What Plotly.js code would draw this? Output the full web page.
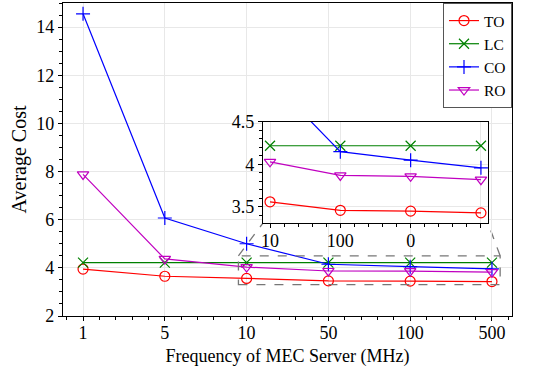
<!DOCTYPE html>
<html>
<head>
<meta charset="utf-8">
<script src="https://cdn.plot.ly/plotly-3.0.1.min.js"></script>
<style>html,body{margin:0;padding:0;background:#fff}#chart{width:545px;height:371px}</style>
</head>
<body>
<div id="chart"></div>
<script>
const categories = ["1", "5", "10", "50", "100", "500"];
const TO = [3.95, 3.65, 3.56, 3.46, 3.45, 3.43];
const LC = [4.22, 4.22, 4.22, 4.22, 4.22, 4.22];
const CO = [14.55, 6.07, 5.0, 4.15, 4.05, 3.96];
const RO = [7.88, 4.37, 4.03, 3.87, 3.86, 3.82];
const insetStart = 2;
const insetTickText = ["10", "100", "0", ""];

const xIdx = categories.map((_, i) => i);
const insetIdx = xIdx.slice(insetStart).map(i => i - insetStart);

const seriesDefs = [
  {name: "TO", y: TO, color: "#ff0000", symbol: "circle-open"},
  {name: "LC", y: LC, color: "#008000", symbol: "x-thin-open"},
  {name: "CO", y: CO, color: "#0000ff", symbol: "cross-thin-open"},
  {name: "RO", y: RO, color: "#c000c0", symbol: "triangle-down-open"}
];

const traces = [];
seriesDefs.forEach(s => {
  traces.push({
    x: xIdx, y: s.y, name: s.name, type: "scatter", mode: "lines+markers",
    line: {color: s.color, width: 1.2},
    marker: {symbol: s.symbol, size: 10, color: s.color, line: {color: s.color, width: 1.2}},
    xaxis: "x", yaxis: "y", cliponaxis: true
  });
});
seriesDefs.forEach(s => {
  traces.push({
    x: insetIdx, y: s.y.slice(insetStart), name: s.name, type: "scatter", mode: "lines+markers",
    line: {color: s.color, width: 1.2},
    marker: {symbol: s.symbol, size: 10, color: s.color, line: {color: s.color, width: 1.2}},
    xaxis: "x2", yaxis: "y2", showlegend: false, cliponaxis: true
  });
});

const FAM = "Liberation Serif";
const font = {family: FAM, color: "#000"};
const tickFont = {family: FAM, color: "#000", size: 18};

// zoom rectangle (data coords of main axes) and inset corners
const rect = {x0: 1.9, x1: 5.1, y0: 3.3, y1: 4.5};
const insetDom = {x: [0.4454, 0.9465], y: [0.297, 0.62]};
const xr = [-0.245, 5.245], yr = [2, 15];
function px2dx(p) { return xr[0] + (xr[1] - xr[0]) * p; }
function py2dy(p) { return yr[0] + (yr[1] - yr[0]) * p; }

const dashStyle = {color: "#777", width: 1.3, dash: "dash"};

const layout = {
  width: 545, height: 371,
  margin: {l: 63, r: 33, t: 3, b: 55},
  paper_bgcolor: "#fff", plot_bgcolor: "#fff",
  font: font,
  showlegend: true,
  legend: {
    x: 1, xanchor: "right", y: 1, yanchor: "top",
    bgcolor: "#fff", bordercolor: "#555", borderwidth: 1,
    font: {family: FAM, color: "#000", size: 15.5},
    tracegroupgap: 0, itemwidth: 30, entrywidth: 72
  },
  xaxis: {
    domain: [0, 1], range: xr,
    tickmode: "array", tickvals: xIdx, ticktext: categories,
    ticks: "outside", ticklen: 4, tickcolor: "#000", tickwidth: 1,
    ticklabelstandoff: -4,
    minor: {tickmode: "linear", tick0: 0, dtick: 0.2, ticks: "outside", ticklen: 3, tickcolor: "#000", showgrid: false},
    showgrid: true, gridcolor: "#e8e8e8", gridwidth: 1,
    showline: true, linecolor: "#000", linewidth: 1.2, mirror: true,
    zeroline: false, tickfont: tickFont,
    title: {text: "Frequency of MEC Server (MHz)", font: {family: FAM, color: "#000", size: 18}, standoff: 7}
  },
  yaxis: {
    domain: [0, 1], range: yr,
    tickmode: "linear", tick0: 2, dtick: 2,
    ticks: "outside", ticklen: 4, tickcolor: "#000",
    minor: {tickmode: "linear", tick0: 2, dtick: 0.5, ticks: "outside", ticklen: 3, tickcolor: "#000", showgrid: false},
    showgrid: true, gridcolor: "#e8e8e8",
    showline: true, linecolor: "#000", linewidth: 1.2, mirror: true,
    zeroline: false, tickfont: tickFont,
    title: {text: "Average Cost", font: {family: FAM, color: "#000", size: 20}, standoff: 4}
  },
  xaxis2: {
    domain: insetDom.x, anchor: "y2", range: [-0.1, 3.1],
    tickmode: "array", tickvals: insetIdx, ticktext: insetTickText,
    ticks: "outside", ticklen: 4, tickcolor: "#000",
    ticklabelstandoff: -3,
    minor: {tickmode: "linear", tick0: 0, dtick: 0.2, ticks: "outside", ticklen: 3, tickcolor: "#000", showgrid: false},
    showgrid: true, gridcolor: "#e8e8e8",
    showline: true, linecolor: "#000", linewidth: 1.2, mirror: true,
    zeroline: false, tickfont: tickFont
  },
  yaxis2: {
    domain: insetDom.y, anchor: "x2", range: [3.31, 4.5],
    tickmode: "array", tickvals: [3.5, 4, 4.5], ticktext: ["3.5", "4", "4.5"],
    ticks: "outside", ticklen: 4, tickcolor: "#000",
    minor: {tickmode: "linear", tick0: 3.5, dtick: 0.1, ticks: "outside", ticklen: 3, tickcolor: "#000", showgrid: false},
    showgrid: true, gridcolor: "#e8e8e8",
    showline: true, linecolor: "#000", linewidth: 1.2, mirror: true,
    zeroline: false, tickfont: tickFont
  },
  shapes: [
    {type: "rect", xref: "x", yref: "y", x0: rect.x0, x1: rect.x1, y0: rect.y0, y1: rect.y1,
     line: dashStyle, fillcolor: "rgba(0,0,0,0)", layer: "above"},
    {type: "line", xref: "x", yref: "y", x0: rect.x0, y0: rect.y1,
     x1: px2dx(insetDom.x[0]), y1: py2dy(insetDom.y[0]), line: dashStyle, layer: "below"},
    {type: "line", xref: "x", yref: "y", x0: rect.x1, y0: rect.y1,
     x1: px2dx(insetDom.x[1]), y1: py2dy(insetDom.y[0]), line: dashStyle, layer: "below"}
  ]
};

Plotly.newPlot("chart", traces, layout, {displayModeBar: false, staticPlot: true});
</script>
</body>
</html>
